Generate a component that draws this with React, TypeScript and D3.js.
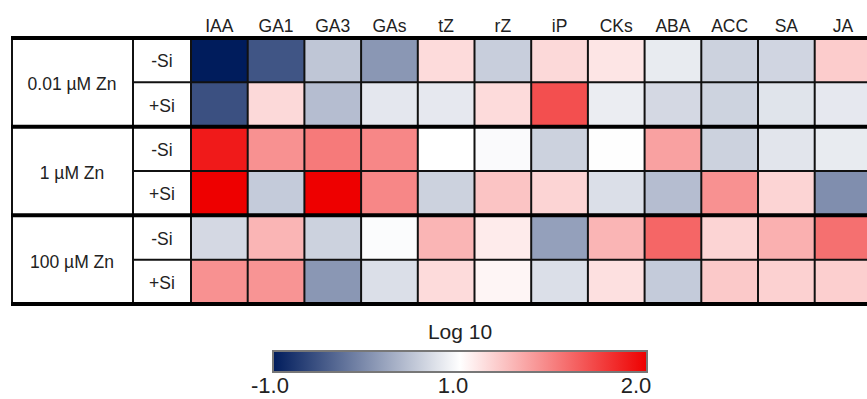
import React from 'react';
import * as d3 from 'd3';

// hormones on the x axis
const hormones = ['IAA', 'GA1', 'GA3', 'GAs', 'tZ', 'rZ', 'iP', 'CKs', 'ABA', 'ACC', 'SA', 'JA'];
const zincLevels = ['0.01 µM Zn', '1 µM Zn', '100 µM Zn'];
const siTreatments = ['-Si', '+Si'];

// log10 values (scale -1 .. 1 .. 2)
const zn001NoSi = [-1.0, -0.5, 0.5, 0.08, 1.14, 0.57, 1.15, 1.1, 0.82, 0.6, 0.63, 1.2];
const zn001Si = [-0.54, 1.15, 0.42, 0.79, 0.8, 1.14, 1.69, 0.84, 0.66, 0.61, 0.76, 0.8];
const zn1NoSi = [1.9, 1.43, 1.52, 1.47, 1.0, 0.96, 0.6, 0.99, 1.37, 0.6, 0.77, 0.82];
const zn1Si = [2.0, 0.54, 2.0, 1.47, 0.6, 1.23, 1.17, 0.72, 0.42, 1.43, 1.17, 0.0];
const zn100NoSi = [0.66, 1.29, 0.6, 0.97, 1.29, 1.08, 0.16, 1.29, 1.6, 1.17, 1.31, 1.56];
const zn100Si = [1.43, 1.42, 0.08, 0.72, 1.14, 1.04, 0.72, 1.12, 0.54, 1.21, 1.18, 1.19];

const rowsData = [zn001NoSi, zn001Si, zn1NoSi, zn1Si, zn100NoSi, zn100Si];

const legendDomain = [-1, 1, 2];
const legendLabels = ['-1.0', '1.0', '2.0'];

const W = 867;
const H = 399;
const FONT = "Arial, 'Liberation Sans', sans-serif";

export default function App() {
  const rowIds = d3.range(rowsData.length).map(String);
  const x = d3.scaleBand<string>().domain(hormones).range([191, 191 + 12 * 56.7]);
  const y = d3.scaleBand<string>().domain(rowIds).range([38, 304]);
  const color = d3.scaleLinear<string>().domain(legendDomain).range(['#001c5c', '#ffffff', '#ee0000']);

  const right = W + 20;
  const rowH = y.bandwidth();

  const cells = rowsData.flatMap((vals, r) =>
    vals.map((v, c) => ({ r, c, v }))
  );

  const legX0 = 273;
  const legX1 = 647;
  const legLabel = d3.scalePoint<string>().domain(legendLabels).range([270, 636]);

  return (
    <div style={{ position: 'absolute', left: 0, top: 0 }}>
      <svg width={W} height={H} style={{ display: 'block', background: '#fff' }}>
        <defs>
          <linearGradient id="leg" x1="0" x2="1" y1="0" y2="0">
            {legendDomain.map((d, i) => (
              <stop key={i} offset={`${(i / (legendDomain.length - 1)) * 100}%`} stopColor={color(d)} />
            ))}
          </linearGradient>
        </defs>

        {/* column headers */}
        {hormones.map((h) => (
          <text key={h} x={x(h)! + x.bandwidth() / 2} y={32} textAnchor="middle"
            fontFamily={FONT} fontSize={17.5} fill="#222">{h}</text>
        ))}

        {/* cells */}
        {cells.map((d) => (
          <rect key={`${d.r}-${d.c}`} x={x(hormones[d.c])} y={y(String(d.r))}
            width={x.bandwidth()} height={rowH} fill={color(d.v)} />
        ))}

        {/* row labels */}
        {zincLevels.map((z, i) => (
          <text key={z} x={72} y={y(String(i * 2))! + rowH + 8} textAnchor="middle"
            fontFamily={FONT} fontSize={17.5} fill="#222">{z}</text>
        ))}
        {rowIds.map((id, i) => (
          <text key={id} x={162} y={y(id)! + rowH / 2 + 7} textAnchor="middle"
            fontFamily={FONT} fontSize={17.5} fill="#222">{siTreatments[i % 2]}</text>
        ))}

        {/* thin horizontal lines between -Si / +Si */}
        {zincLevels.map((z, i) => (
          <line key={z} x1={133} x2={right} y1={y(String(i * 2 + 1))} y2={y(String(i * 2 + 1))}
            stroke="#111" strokeWidth={2} />
        ))}

        {/* vertical lines */}
        {[12, 133, 191, ...hormones.slice(1).map((h) => x(h)!)].map((vx, i) => (
          <line key={i} x1={vx} x2={vx} y1={38} y2={304} stroke="#111" strokeWidth={2} />
        ))}

        {/* thick group lines */}
        {[0, 2, 4, 6].map((r) => {
          const yy = r < 6 ? y(String(r))! : y.range()[1];
          return <line key={r} x1={11} x2={right} y1={yy} y2={yy} stroke="#000" strokeWidth={4} />;
        })}

        {/* legend */}
        <text x={(legX0 + legX1) / 2} y={339} textAnchor="middle" fontFamily={FONT} fontSize={21} fill="#222">Log 10</text>
        <rect x={legX0} y={351} width={legX1 - legX0} height={21} fill="url(#leg)" stroke="#777" strokeWidth={2} />
        {legendLabels.map((l) => (
          <text key={l} x={legLabel(l)} y={393} textAnchor="middle" fontFamily={FONT} fontSize={22} fill="#222">{l}</text>
        ))}
      </svg>
    </div>
  );
}
